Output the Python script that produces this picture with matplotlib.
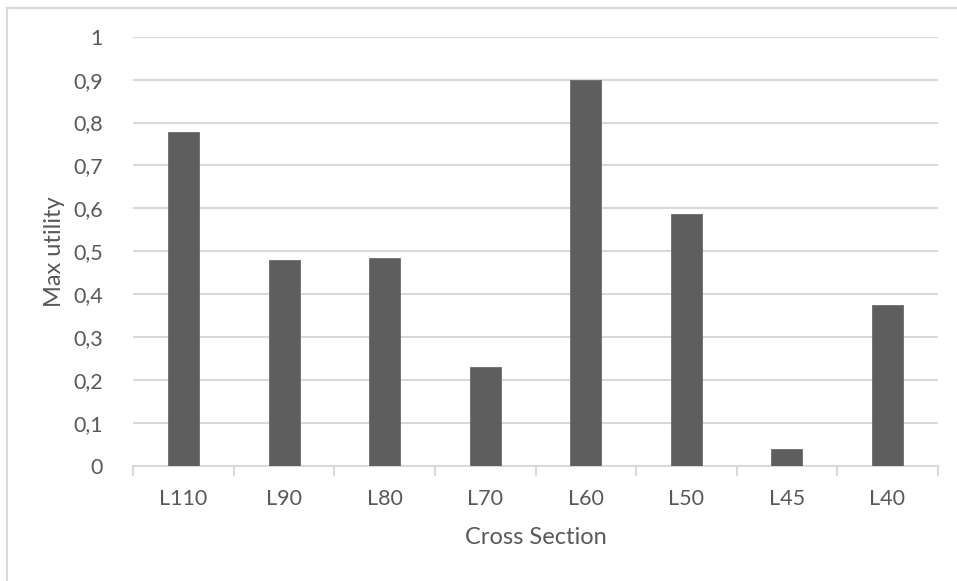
import matplotlib
matplotlib.use("Agg")
import matplotlib.pyplot as plt
from matplotlib.lines import Line2D
from matplotlib.ticker import FixedLocator, FuncFormatter

sections = ["L110", "L90", "L80", "L70", "L60", "L50", "L45", "L40"]
max_utility = [0.778, 0.479, 0.485, 0.231, 0.899, 0.587, 0.040, 0.375]
y_ticks = [0, 0.1, 0.2, 0.3, 0.4, 0.5, 0.6, 0.7, 0.8, 0.9, 1.0]

TEXT = "#595959"
BAR = "#5e5e5e"
GRID = "#d9d9d9"

plt.rcParams["font.family"] = ["Lato", "DejaVu Sans"]

W, H = 957, 581
fig = plt.figure(figsize=(W / 100, H / 100), dpi=100)

# outer chart frame
fig.add_artist(Line2D([7 / W, 7 / W], [0, 1 - 8 / H], color=GRID, lw=1.5,
                      transform=fig.transFigure))
fig.add_artist(Line2D([7 / W, 1], [1 - 8 / H, 1 - 8 / H], color=GRID, lw=1.5,
                      transform=fig.transFigure))

left, right = 133.3 / W, 937.7 / W
bottom, top = 1 - 465.7 / H, 1 - 36.7 / H
ax = fig.add_axes([left, bottom, right - left, top - bottom])

x = list(range(len(sections)))
ax.bar(x, max_utility, width=0.31, color=BAR, edgecolor="#6a6a6a",
       linewidth=0.6, zorder=3)

ax.set_xlim(-0.5, len(sections) - 0.5)
ax.set_ylim(0, 1)

ax.set_yticks(y_ticks)
ax.yaxis.set_major_formatter(
    FuncFormatter(lambda v, _: ("%g" % round(v, 1)).replace(".", ",")))
ax.yaxis.grid(True, color=GRID, lw=1.5, zorder=0)
ax.tick_params(axis="y", length=0, pad=22, labelsize=15.5, labelcolor=TEXT)

# boundary ticks below the axis, labels at category centres
ax.xaxis.set_major_locator(FixedLocator([i - 0.5 for i in range(len(sections) + 1)]))
ax.xaxis.set_major_formatter(FuncFormatter(lambda v, _: ""))
ax.xaxis.set_minor_locator(FixedLocator(x))
ax.set_xticklabels(sections, minor=True)
ax.tick_params(axis="x", which="major", length=7, width=1.5, color=GRID,
               direction="out")
ax.tick_params(axis="x", which="minor", length=0, pad=17, labelsize=15.5,
               labelcolor=TEXT)

for side in ("top", "right", "left"):
    ax.spines[side].set_visible(False)
ax.spines["bottom"].set_color(GRID)
ax.spines["bottom"].set_linewidth(1.5)

ax.set_xlabel("Cross Section", fontsize=17, color=TEXT, labelpad=13)
ax.set_ylabel("Max utility", fontsize=17, color=TEXT, labelpad=6)

fig.savefig("out.png", dpi=100, facecolor="white")
